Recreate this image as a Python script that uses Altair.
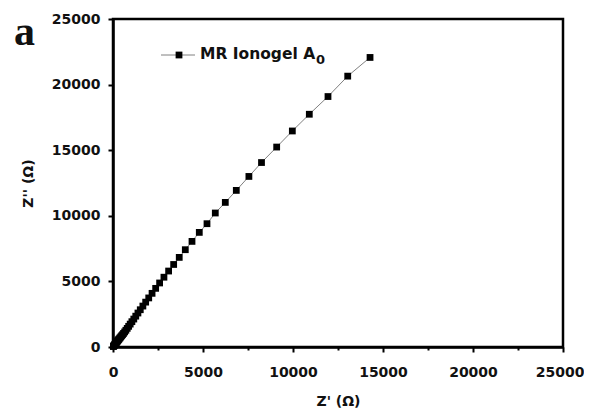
import altair as alt
import pandas as pd

z_real = [20, 35, 52, 70, 90, 110, 132, 155, 180, 208, 238, 270, 305, 342,
          382, 427, 475, 528, 585, 648, 715, 790, 870, 955, 1050, 1155, 1265,
          1385, 1515, 1660, 1815, 1985, 2170, 2370, 2590, 2830, 3090, 3370,
          3680, 4017, 4389, 4794, 5222, 5683, 6239, 6850, 7550, 8250, 9093,
          9963, 10906, 11944, 13040, 14280]
z_imag = [37, 65, 97, 130, 167, 205, 245, 288, 335, 385, 440, 495, 560, 620,
          690, 765, 850, 935, 1035, 1150, 1275, 1420, 1575, 1745, 1930, 2130,
          2350, 2590, 2840, 3120, 3420, 3740, 4090, 4470, 4880, 5320, 5790,
          6290, 6830, 7416, 8049, 8735, 9398, 10213, 11021, 11936, 13000,
          14060, 15240, 16465, 17740, 19090, 20645, 22070]

axis_values = [0, 2500, 5000, 7500, 10000, 12500, 15000, 17500, 20000, 22500, 25000]
series_name = "MR Ionogel A"
series_sub = "0"
panel_label = "a"

df = pd.DataFrame({"x": z_real, "y": z_imag, "order": list(range(len(z_real)))})

W, H = 450, 328
FONT = "DejaVu Sans"

def ax(title, tpad, lpad, last_fix=False):
    extra = {}
    if last_fix:
        extra["labelAlign"] = {"condition": {"test": "datum.value === 25000", "value": "right"}, "value": "center"}
        extra["labelOffset"] = {"condition": {"test": "datum.value === 25000", "value": 21}, "value": 0}
    return alt.Axis(
        title=title,
        values=axis_values,
        labelExpr="datum.value % 5000 === 0 ? datum.label : ''",
        format="d",
        grid=False,
        domainColor="black",
        domainWidth=2.5,
        tickColor="black",
        tickWidth=2,
        tickSize={"condition": {"test": "datum.value % 5000 === 0", "value": 5}, "value": 3},
        labelFont=FONT,
        labelFontSize=14,
        labelFontWeight="bold",
        labelColor="#111",
        labelPadding=lpad,
        titleFont=FONT,
        titleFontSize=14,
        titleFontWeight="bold",
        titleColor="#111",
        titlePadding=tpad,
        labelFlush=False,
        labelOverlap=False,
        **extra,
    )

xs = alt.Scale(domain=[0, 25000], nice=False, zero=False)
ys = alt.Scale(domain=[0, 25000], nice=False, zero=False)

line = alt.Chart(df).mark_line(color="#808080", strokeWidth=1).encode(
    x=alt.X("x:Q", scale=xs, axis=ax("Z' (Ω)", 15, 13, last_fix=True)),
    y=alt.Y("y:Q", scale=ys, axis=ax("Z'' (Ω)", 16, 8)),
    order="order:Q",
)
pts = alt.Chart(df).mark_square(color="black", size=46, opacity=1).encode(
    x=alt.X("x:Q", scale=xs),
    y=alt.Y("y:Q", scale=ys),
)

# legend drawn inside the plot
leg_line = alt.Chart(df.head(1)).mark_rule(color="#808080", strokeWidth=1).encode(
    x=alt.value(48), x2=alt.value(82), y=alt.value(36)
)
leg_sq = alt.Chart(df.head(1)).mark_square(color="black", size=46, opacity=1).encode(
    x=alt.value(66), y=alt.value(36)
)
leg_txt = alt.Chart(df.head(1)).mark_text(
    text=series_name, font=FONT, fontSize=15.5, fontWeight="bold", align="left",
    baseline="middle", color="#111"
).encode(x=alt.value(87), y=alt.value(35))
leg_sub = alt.Chart(df.head(1)).mark_text(
    text=series_sub, font=FONT, fontSize=13, fontWeight="bold", align="left",
    baseline="middle", color="#111"
).encode(x=alt.value(203), y=alt.value(41))

panel = alt.Chart(df.head(1)).mark_text(
    text=panel_label, font="Liberation Serif", fontSize=42, fontWeight="bold",
    align="left", baseline="alphabetic", color="#111"
).encode(x=alt.value(-99), y=alt.value(26))

chart = alt.layer(line, pts, leg_line, leg_sq, leg_txt, leg_sub, panel).properties(
    width=W, height=H,
    autosize=alt.AutoSizeParams(type="none"),
    padding={"left": 105, "top": 11, "right": 21, "bottom": 70},
    background="white",
).configure_view(stroke="black", strokeWidth=2.5)

chart.save("out.html", embed_options={"renderer": "svg", "actions": False})
